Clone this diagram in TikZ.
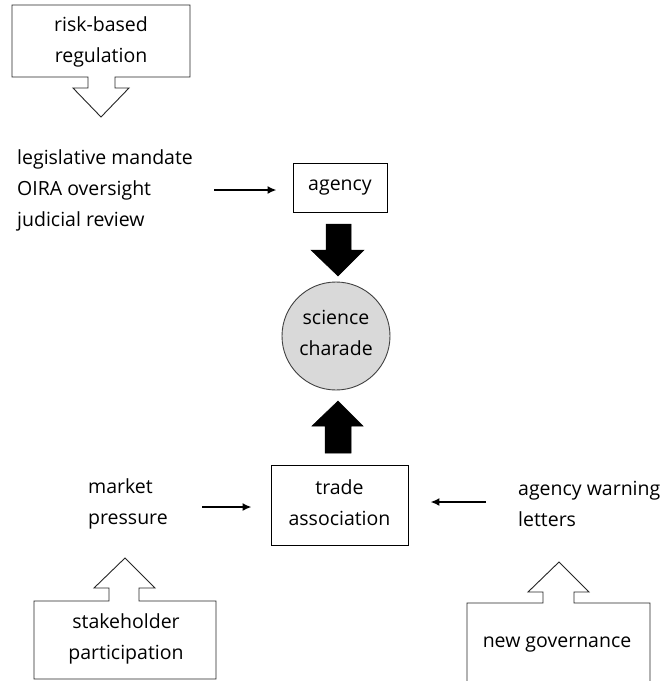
\documentclass[tikz,border=0pt]{standalone}
\usepackage{fontspec}
\setmainfont{Open Sans}
\usetikzlibrary{arrows.meta}
\begin{document}
\begin{tikzpicture}[x=1pt,y=-1pt,
  txt/.style={font=\fontsize{19.5}{31}\selectfont, inner sep=0pt},
  boxnode/.style={draw=black, line width=0.9pt, rectangle, inner sep=0pt},
  thinarrow/.style={line width=1.9pt, -{Latex[length=9pt,width=8pt]}},
  callout/.style={draw=black!85, line width=0.9pt, fill=white},
  blockarrow/.style={fill=black, draw=black, line width=0.5pt}
]
\clip (0,0) rectangle (661,681);
\fill[white] (0,0) rectangle (661,681);

% top callout: risk-based regulation
\draw[callout] (12,5) -- (190,5) -- (190,77) -- (115,77) -- (115,88) -- (129,88) -- (101,117) -- (73,88) -- (88,88) -- (88,77) -- (12,77) -- cycle;
\node[txt, align=center] (risk) at (101,42) {risk-based\\regulation};

% legislative text
\node[txt, align=left, anchor=west] (leg) at (17,190) {legislative mandate\\OIRA oversight\\judicial review};

% agency
\node[boxnode, minimum width=94pt, minimum height=49pt] (agency) at (340,187.5) {};
\node[txt] (agencytxt) at (340,188) {agency};
\draw[thinarrow, shorten >=16pt] ([xshift=21pt]leg.east) -- (leg.east -| agency.west);

% science charade
\node[circle, draw=black!75, line width=0.9pt, fill=black!15, minimum size=108pt, inner sep=0pt] (sci) at (336,336) {};
\node[txt, align=center] (scitxt) at (336,333) {science\\charade};

% black block arrows
\fill[blockarrow] (326,224) -- (351,224) -- (351,250) -- (364,250) -- (338,276) -- (311,250) -- (326,250) -- cycle;
\fill[blockarrow] (325,453) -- (351,453) -- (351,426) -- (363,426) -- (338,401) -- (312,426) -- (325,426) -- cycle;

% trade association
\node[boxnode, minimum width=137pt, minimum height=80pt] (trade) at (339.5,505) {};
\node[txt, align=center] (tradetxt) at (339.5,503) {trade\\association};

% market pressure
\node[txt, align=left, anchor=west] (market) at (88,504) {market\\pressure};
\coordinate (mA) at ([yshift=-3pt]market.east -| 202,0);
\draw[thinarrow, shorten >=19pt] (mA) -- (mA -| trade.west);

% agency warning letters
\node[txt, align=left, anchor=west] (warn) at (518,504) {agency warning\\letters};
\coordinate (wA) at ([yshift=2pt]warn.west -| 486,0);
\draw[thinarrow, shorten >=22pt] (wA) -- (wA -| trade.east);

% stakeholder participation callout
\draw[callout] (34,679) -- (34,601) -- (109,601) -- (109,588) -- (94,588) -- (125,558) -- (155,588) -- (139,588) -- (139,601) -- (216,601) -- (216,679) -- cycle;
\node[txt, align=center] (stake) at (126,639) {stakeholder\\participation};

% new governance callout
\draw[callout] (467,695) -- (467,603) -- (543,603) -- (543,592) -- (528,592) -- (559,562) -- (589,592) -- (574,592) -- (574,603) -- (650,603) -- (650,695);
\node[txt] (gov) at (557,645) {new governance};
\end{tikzpicture}
\end{document}
